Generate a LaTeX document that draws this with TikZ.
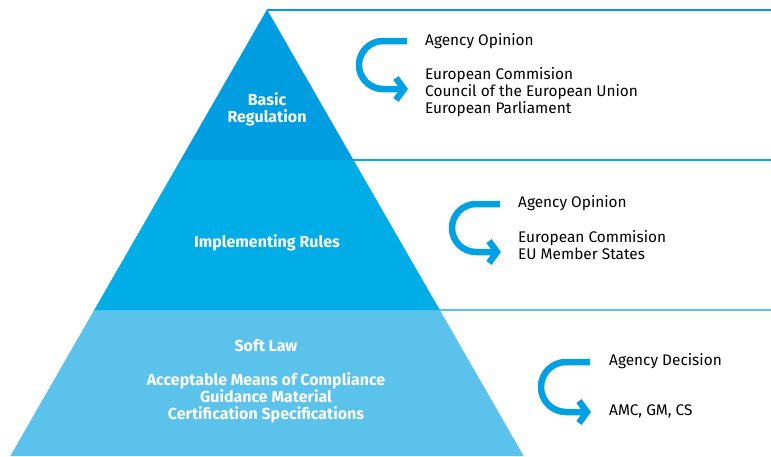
\documentclass[tikz,border=0pt]{standalone}
\usepackage{fontspec}
\setmainfont{Fira Sans}
\usetikzlibrary{arrows.meta}
\definecolor{topblue}{RGB}{0,158,224}
\definecolor{midblue}{RGB}{0,173,230}
\definecolor{lowblue}{RGB}{91,194,236}
\definecolor{hookblue}{RGB}{0,160,227}

\begin{document}
\begin{tikzpicture}[x=1pt, y=-1pt,
  tier/.style={text=white, font=\fontsize{16}{17}\selectfont\bfseries, align=center},
  note/.style={anchor=west, inner sep=0pt, font=\fontsize{15.4}{17}\selectfont, align=left},
  hook/.style={hookblue, line width=6.5pt, -{Straight Barb[length=8pt,width=22pt]}}]
  \useasboundingbox (0,0) rectangle (771,456);

  % guide lines
  \draw[topblue, line width=1.5pt] (267,10) -- (771,10);
  \draw[midblue, line width=1.5pt] (353,160) -- (771,160);
  \draw[lowblue, line width=1.5pt] (439,310) -- (771,310);

  % pyramid
  \fill[lowblue] (10.3,456) -- (523.7,456) -- (439.8,310) -- (94.2,310) -- cycle;
  \fill[midblue] (94.2,310) -- (439.8,310) -- (353.5,160) -- (180.5,160) -- cycle;
  \fill[topblue] (180.5,160) -- (353.5,160) -- (267,9.5) -- cycle;

  \node[tier] (t1) at (267,109.5) {Basic\\Regulation};
  \node[tier] (t2) at (267,243) {Implementing Rules};
  \node[tier] (t3) at (266,381.5) {Soft Law\\[17pt]Acceptable Means of Compliance\\Guidance Material\\Certification Specifications};

  % hooks
  \coordinate (h1) at (407,41);
  \coordinate (h2) at (500,204);
  \coordinate (h3) at (590,362);
  \draw[hook] (h1) -- ++(-24,0) arc[start angle=270, end angle=90, radius=24] -- ++(25,0);
  \draw[hook] (h2) -- ++(-24,0) arc[start angle=270, end angle=90, radius=24] -- ++(25,0);
  \draw[hook] (h3) -- ++(-24,0) arc[start angle=270, end angle=90, radius=25] -- ++(25,0);

  \node[note] (o1) at (425,41) {Agency Opinion};
  \node[note] (b1) at (425,92) {European Commision\\Council of the European Union\\European Parliament};
  \node[note] (o2) at (518,203) {Agency Opinion};
  \node[note] (b2) at (518,245.5) {European Commision\\EU Member States};
  \node[note] (o3) at (609,361) {Agency Decision};
  \node[note] (b3) at (609,411) {AMC, GM, CS};
\end{tikzpicture}
\end{document}
